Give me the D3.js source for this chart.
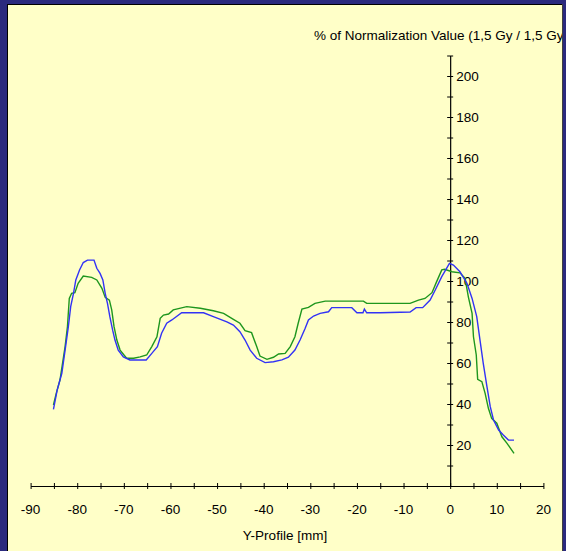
<!DOCTYPE html>
<html>
<head>
<meta charset="utf-8">
<script src="https://cdn.jsdelivr.net/npm/d3@7"></script>
<style>
  html, body { margin: 0; padding: 0; background: #2b2a7e; }
  svg { display: block; }
  text { font-family: "Liberation Sans", Arial, sans-serif; fill: #000; }
</style>
</head>
<body>
<svg id="chart" width="566" height="551"></svg>
<script>
// Y-profile measurements (position in mm, % of normalization value)
const bluePos = [-85.1, -84.3, -83.3, -82.6, -81.9, -81.4, -80.8, -80.3, -79.5, -78.7, -77.8, -76.4, -75.8, -75.1, -74.5, -74.0, -73.5, -73.0, -72.4, -71.9, -71.2, -70.1, -68.7, -65.2, -64.0, -62.8, -61.9, -60.8, -59.7, -57.6, -52.9, -50.8, -47.9, -46.5, -45.1, -44.0, -42.9, -41.5, -39.7, -37.9, -36.1, -34.7, -33.3, -32.2, -31.1, -30.4, -29.3, -27.9, -26.1, -25.4, -21.1, -20.0, -18.7, -18.4, -17.9, -15.0, -8.6, -7.3, -5.9, -4.3, -3.2, -1.8, -0.15, 0.7, 2.1, 3.6, 4.7, 5.7, 6.4, 7.1, 7.9, 8.6, 9.3, 10.4, 11.4, 12.5, 13.7];
const blueVal = [37.4, 46.8, 55.0, 66.3, 77.7, 87.5, 94.0, 100.5, 105.4, 109.0, 110.2, 110.2, 106.2, 103.7, 100.5, 94.0, 89.0, 82.6, 76.0, 71.2, 66.3, 63.0, 61.5, 61.5, 64.7, 68.0, 74.5, 79.4, 81.0, 84.5, 84.5, 82.6, 80.1, 78.5, 75.3, 71.2, 66.3, 62.3, 60.2, 60.6, 61.5, 62.8, 66.3, 71.2, 76.9, 81.0, 82.9, 84.2, 85.0, 87.0, 87.0, 84.5, 84.5, 86.3, 84.5, 84.5, 84.9, 87.0, 87.0, 90.7, 95.6, 102.1, 108.6, 107.8, 104.5, 98.9, 91.5, 82.6, 71.2, 59.8, 48.4, 38.7, 32.2, 27.3, 24.9, 22.4, 22.4];

const greenPos = [-85.1, -84.5, -83.7, -82.6, -82.1, -81.7, -81.2, -80.5, -79.8, -78.7, -76.9, -75.8, -74.7, -74.0, -73.1, -72.6, -72.1, -71.5, -70.8, -69.4, -67.9, -66.5, -65.1, -64.0, -62.9, -62.2, -61.5, -60.4, -59.4, -56.5, -53.6, -50.8, -48.6, -46.5, -45.1, -44.0, -42.6, -41.5, -40.8, -39.3, -37.9, -36.8, -35.4, -34.3, -33.3, -32.6, -31.8, -30.4, -29.0, -26.8, -18.6, -17.9, -15.0, -8.6, -6.8, -5.4, -3.9, -2.9, -1.8, -1.2, 0.4, 2.1, 3.2, 3.9, 4.7, 5.0, 5.6, 5.9, 6.8, 7.5, 8.2, 8.9, 10.0, 11.1, 12.2, 13.7];
const greenVal = [39.5, 45.2, 51.7, 68.0, 77.7, 91.5, 94.0, 94.3, 98.9, 102.4, 101.8, 100.5, 96.4, 92.0, 90.7, 85.9, 77.7, 71.2, 66.3, 62.3, 62.3, 63.0, 63.9, 68.0, 72.8, 81.8, 83.4, 83.9, 85.9, 87.5, 86.7, 85.5, 84.2, 81.3, 79.4, 75.8, 74.8, 68.0, 63.4, 61.8, 62.8, 64.4, 64.7, 68.0, 72.8, 79.4, 86.3, 87.1, 89.1, 90.2, 90.2, 89.1, 89.1, 89.1, 90.7, 91.5, 94.3, 99.7, 105.4, 105.7, 104.5, 104.0, 101.3, 92.3, 84.2, 72.8, 63.9, 52.0, 50.9, 45.2, 37.9, 33.0, 30.6, 24.0, 20.8, 15.9];

const xTicks = d3.range(-90, 20.1, 5);
const xLabels = d3.range(-90, 20.1, 10);
const yTicks = d3.range(10, 210.1, 10);
const yLabels = d3.range(20, 200.1, 20);

const titleText = "% of Normalization Value (1,5 Gy / 1,5 Gy)";
const xTitleText = "Y-Profile [mm]";

const svg = d3.select("#chart");
const W = 566, H = 551;

// window frame
svg.append("rect").attr("x", 0).attr("y", 0).attr("width", W).attr("height", H).attr("fill", "#2b2a7e");
svg.append("rect").attr("x", 7).attr("y", 4).attr("width", 556).attr("height", H - 4).attr("fill", "#ffffc8");
svg.append("line").attr("x1", 7.5).attr("x2", 7.5).attr("y1", 4).attr("y2", H).attr("stroke", "#000");
svg.append("line").attr("x1", 7).attr("x2", 563).attr("y1", 4.5).attr("y2", 4.5).attr("stroke", "#000");
svg.append("line").attr("x1", 562.5).attr("x2", 562.5).attr("y1", 4).attr("y2", H).attr("stroke", "#404040");

const x = d3.scaleLinear().domain([-90, 20]).range([30.6, 543.4]);
const y = d3.scaleLinear().domain([0, 200]).range([486, 76]);

const g = svg.append("g");
const clip = svg.append("clipPath").attr("id", "panel")
  .append("rect").attr("x", 8).attr("y", 5).attr("width", 554).attr("height", H - 5);

// x axis
const xAxis = g.append("g").attr("transform", `translate(0,${y(0)})`)
  .call(d3.axisBottom(x).tickValues(xTicks).tickSize(0).tickFormat(""));
xAxis.select(".domain").attr("stroke", "#000").attr("stroke-width", 1.2);
xAxis.selectAll(".tick").append("line").attr("y1", -3).attr("y2", 3).attr("stroke", "#000");

g.append("g").selectAll("text").data(xLabels).join("text")
  .attr("x", d => x(d)).attr("y", 514)
  .attr("text-anchor", "middle").style("font-size", "13.5px")
  .text(d => d);

// y axis through x = 0
const yAxis = g.append("g").attr("transform", `translate(${x(0)},0)`)
  .call(d3.axisRight(y.copy().domain([0, 210]).range([486, 486 - 210 * 2.05])).tickValues(yTicks).tickSize(0).tickFormat(""));
yAxis.select(".domain").attr("stroke", "#000").attr("stroke-width", 1.2);
yAxis.selectAll(".tick").append("line").attr("x1", -3).attr("x2", 3).attr("stroke", "#000");

g.append("g").selectAll("text").data(yLabels).join("text")
  .attr("x", x(0) + 6).attr("y", d => y(d) + 5)
  .style("font-size", "13.5px")
  .text(d => d);

// titles
svg.append("g").attr("clip-path", "url(#panel)")
  .append("text").attr("x", 314).attr("y", 40).style("font-size", "13.5px").text(titleText);
svg.append("text").attr("x", 285).attr("y", 540).attr("text-anchor", "middle")
  .style("font-size", "13.5px").text(xTitleText);

// profile curves
const line = d3.line().x(d => x(d[0])).y(d => y(d[1]));
const curves = g.append("g").attr("fill", "none").attr("stroke-width", 1.4);
curves.append("path").datum(d3.zip(greenPos, greenVal)).attr("stroke", "#1e961e").attr("d", line);
curves.append("path").datum(d3.zip(bluePos, blueVal)).attr("stroke", "#3232f5").attr("d", line);
</script>
</body>
</html>
